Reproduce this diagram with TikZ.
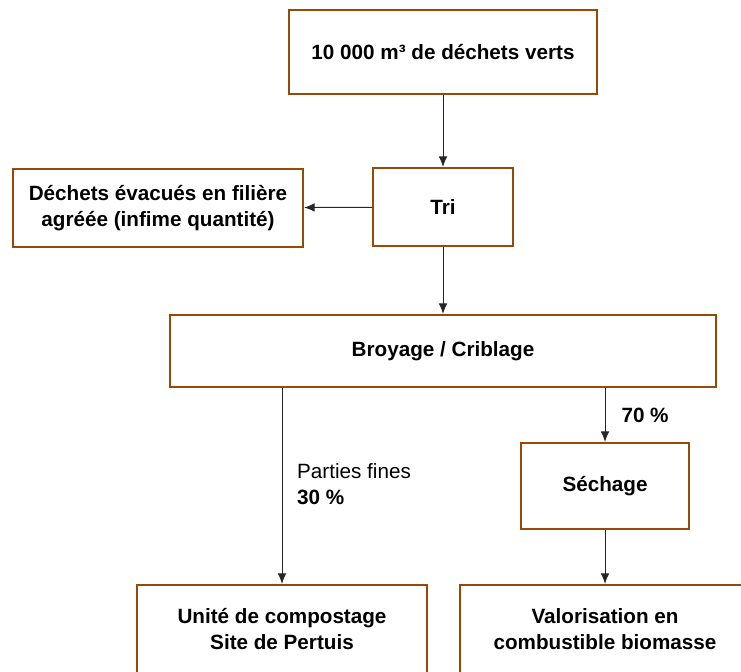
\documentclass[tikz,border=0pt]{standalone}
\usepackage{fontspec}
\setmainfont{Liberation Sans}
\usetikzlibrary{arrows.meta}

\definecolor{boxbrown}{RGB}{152,72,7}
\newcommand{\diagfont}{\fontsize{15.5}{19.3}\selectfont}

\tikzset{
	box/.style = {draw=boxbrown, line width=1.5pt, fill=white, align=center, inner sep=0pt, font=\diagfont\bfseries},
	boxtext/.style = {align=center, font=\diagfont\bfseries},
	flow/.style = {->, line width=0.75pt, draw=black!85},
	flowlabel/.style = {anchor=west, inner sep=0pt, align=left, font=\diagfont},
}

\begin{document}
\begin{tikzpicture}[x=0.75pt, y=-0.75pt, >={Latex[length=8pt, width=6.5pt]}]

	%% canvas
	\useasboundingbox (0,0) rectangle (741,671);

	%% boxes
	\node[box, minimum width=231pt, minimum height=63pt] (dechetsverts) at (443,52) {10 000 m³ de déchets verts};
	\node[box, minimum width=105pt, minimum height=58.5pt] (tri) at (443,207) {Tri};
	\node[box, minimum width=217.5pt, minimum height=58.5pt] (evacues) at (158,208) {Déchets évacués en filière\\agréée (infime quantité)};
	\node[box, minimum width=409.5pt, minimum height=54pt] (broyage) at (443,351) {Broyage / Criblage};
	\node[box, minimum width=126pt, minimum height=64.5pt] (sechage) at (605,486) {Séchage};

	%% bottom boxes run past the page edge
	\node[box, anchor=north, minimum width=217.5pt, minimum height=97.5pt] (compostage) at (282,584) {};
	\node[boxtext] (compostagetxt) at (282,629) {Unité de compostage\\Site de Pertuis};
	\node[box, anchor=north, minimum width=217.5pt, minimum height=97.5pt] (biomasse) at (605,584) {};
	\node[boxtext] (biomassetxt) at (605,629) {Valorisation en\\combustible biomasse};

	%% arrows
	\draw[flow] (dechetsverts) -- (tri);
	\draw[flow] (tri) -- (evacues);
	\draw[flow] (tri) -- (broyage);
	\draw[flow] (broyage.south -| compostage.north) -- node[flowlabel, pos=0.49, xshift=11pt] (fines) {Parties fines\\\textbf{30 \%}} (compostage.north);
	\draw[flow] (broyage.south -| sechage.north) -- node[flowlabel, pos=0.51, xshift=12pt, font=\diagfont\bfseries] (soixantedix) {70 \%} (sechage.north);
	\draw[flow] (sechage) -- (biomasse.north);

\end{tikzpicture}
\end{document}
